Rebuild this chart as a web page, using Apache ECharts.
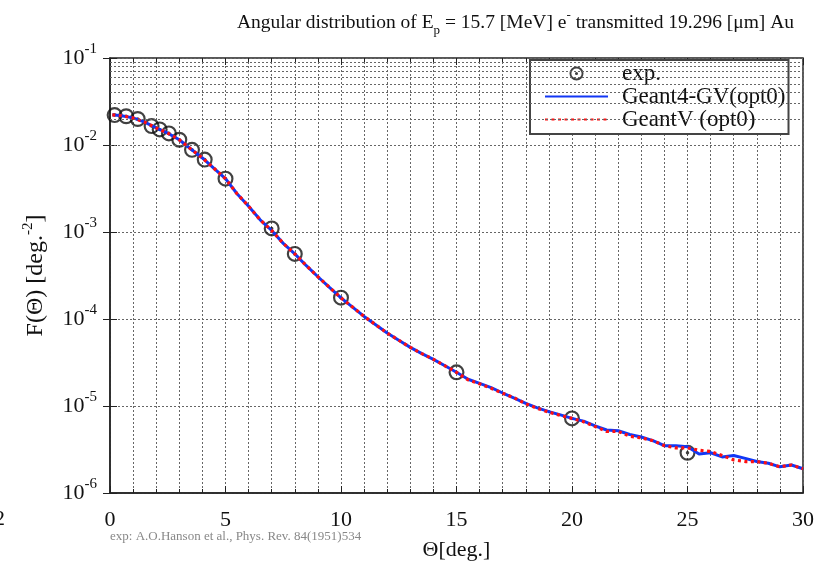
<!DOCTYPE html>
<html><head><meta charset="utf-8">
<script src="https://cdn.jsdelivr.net/npm/echarts@6/dist/echarts.min.js"></script>
<style>html,body{margin:0;padding:0;background:#fff}#c{width:820px;height:568px}</style>
</head><body><div id="c"></div>
<script>
// ---- data ----
const thetaExp = [0.2, 0.7, 1.2, 1.8, 2.15, 2.55, 3.0, 3.55, 4.1, 5, 7, 8, 10, 15, 20, 25];
const fExp = [0.0221, 0.0214, 0.0199, 0.0165, 0.0151, 0.0136, 0.0115, 0.0088, 0.0068, 0.0041, 0.00110, 0.00056, 0.000176, 0.0000244, 0.0000072, 0.0000029];

const thetaSim = [0.1, 0.5, 1, 1.5, 2, 2.5, 3, 3.5, 4, 4.5, 5, 5.5, 6, 6.5, 7, 7.5, 8, 8.5, 9, 9.5,
  10, 10.5, 11, 11.5, 12, 12.5, 13, 13.5, 14, 14.5, 15, 15.5, 16, 16.5, 17, 17.5, 18, 18.5, 19, 19.5,
  20, 20.5, 21, 21.5, 22, 22.5, 23, 23.5, 24, 24.5, 25, 25.5, 26, 26.5, 27, 27.5, 28, 28.5, 29, 29.5, 30];
const fGeant4GV = [0.0222, 0.0217, 0.0205, 0.0183, 0.0157, 0.0137, 0.0115, 0.0090, 0.0071, 0.0054,
  0.0041, 0.00275, 0.00198, 0.00138, 0.00104, 0.00074, 0.00056, 0.00041, 0.000306, 0.000231,
  0.000175, 0.000137, 0.000107, 0.000086, 0.000069, 0.000057, 0.0000472, 0.0000400, 0.0000344, 0.0000290,
  0.0000244, 0.0000203, 0.0000182, 0.0000163, 0.0000141, 0.0000123, 0.0000107, 0.0000095, 0.0000086, 0.0000079,
  0.0000072, 0.0000067, 0.0000059, 0.0000053, 0.0000052, 0.0000047, 0.0000044, 0.0000040, 0.0000035, 0.0000035,
  0.0000034, 0.0000028, 0.0000029, 0.0000026, 0.0000027, 0.0000025, 0.0000023, 0.0000022, 0.0000020, 0.0000021, 0.0000019];
const fGeantV = [0.0222, 0.0217, 0.0205, 0.0183, 0.0157, 0.0137, 0.0115, 0.0090, 0.0071, 0.0054,
  0.0041, 0.00275, 0.00198, 0.00138, 0.00104, 0.00074, 0.00056, 0.00041, 0.000306, 0.000231,
  0.000175, 0.000137, 0.000107, 0.000086, 0.000069, 0.000057, 0.0000472, 0.0000400, 0.0000344, 0.0000290,
  0.0000244, 0.0000200, 0.0000180, 0.0000160, 0.0000140, 0.0000124, 0.0000106, 0.0000094, 0.0000085, 0.0000078,
  0.0000072, 0.0000066, 0.0000058, 0.0000051, 0.0000051, 0.0000045, 0.0000043, 0.0000040, 0.0000035, 0.0000033,
  0.0000033, 0.0000031, 0.0000030, 0.0000027, 0.0000024, 0.0000023, 0.0000023, 0.0000022, 0.0000020, 0.0000021, 0.0000019];

const xMin = 0, xMax = 30, xInterval = 5;
const yMin = 1e-6, yMax = 1e-1;
const decadeExponents = [-6, -5, -4, -3, -2];
const minorMantissas = [2, 3, 4, 5, 6, 7, 8, 9];

// ---- chart ----
const FONT = "'Liberation Serif', 'DejaVu Serif', serif";
const zip = (a, b) => a.map((v, i) => [v, b[i]]);
const minorGrid = [];
decadeExponents.forEach(e => minorMantissas.forEach(m => minorGrid.push(m * Math.pow(10, e))));
const ring = 'path://M0,-10A10,10 0 1,1 0,10A10,10 0 1,1 0,-10Z M0,-7.3A7.3,7.3 0 1,0 0,7.3A7.3,7.3 0 1,0 0,-7.3Z M0,-2.2A2.2,2.2 0 1,1 0,2.2A2.2,2.2 0 1,1 0,-2.2Z';
const gridLine = { color: '#666', width: 1, type: [2, 2] };

const chart = echarts.init(document.getElementById('c'), null, { renderer: 'canvas' });
chart.setOption({
  backgroundColor: '#fff',
  animation: false,
  title: {
    left: 232, top: 4,
    text: '{t|Angular distribution of E}{sub|p}{t| = 15.7 [MeV] e}{sup|-}{t| transmitted 19.296 [μm] Au}',
    textStyle: {
      fontWeight: 'normal',
      rich: {
        t: { fontFamily: FONT, fontSize: 19.5, fontWeight: 'normal', color: '#111', lineHeight: 28 },
        sub: { fontFamily: FONT, fontSize: 13, fontWeight: 'normal', color: '#111', lineHeight: 14, verticalAlign: 'bottom' },
        sup: { fontFamily: FONT, fontSize: 13, fontWeight: 'normal', color: '#111', lineHeight: 13, verticalAlign: 'top' }
      }
    }
  },
  grid: { left: 110, right: 17, top: 58, bottom: 75, show: true, borderColor: '#222', borderWidth: 1.5, backgroundColor: 'transparent' },
  legend: {
    orient: 'vertical', left: 530, top: 60,
    padding: [2, 3, 3, 14], itemGap: 0, itemWidth: 63, itemHeight: 14,
    backgroundColor: '#fff', borderColor: '#444', borderWidth: 2,
    textStyle: { fontFamily: FONT, fontSize: 23, color: '#111', lineHeight: 21, padding: [0, 0, 0, 9] },
    data: [
      { name: 'exp.', icon: ring },
      { name: 'Geant4-GV(opt0)', itemStyle: { opacity: 0 } },
      { name: 'GeantV (opt0)', itemStyle: { opacity: 0 } }
    ]
  },
  xAxis: [{
    type: 'value', min: xMin, max: xMax, interval: xInterval, position: 'bottom',
    axisLine: { show: true, lineStyle: { color: '#222', width: 1.5 } },
    axisTick: { show: true, inside: true, length: 7, lineStyle: { color: '#222' } },
    minorTick: { show: true, splitNumber: 5, length: 4, lineStyle: { color: '#222' } },
    axisLabel: { fontFamily: FONT, fontSize: 22, color: '#111', margin: 16 },
    splitLine: { show: true, lineStyle: gridLine },
    minorSplitLine: { show: true, lineStyle: gridLine },
    name: 'Θ[deg.]', nameLocation: 'middle', nameGap: 46,
    nameTextStyle: { fontFamily: FONT, fontSize: 22, color: '#111' }
  }, {
    type: 'value', min: xMin, max: xMax, interval: xInterval, position: 'top',
    axisLine: { show: false }, axisLabel: { show: false },
    axisTick: { show: true, inside: true, length: 7, lineStyle: { color: '#222' } },
    minorTick: { show: true, splitNumber: 5, length: 4, lineStyle: { color: '#222' } },
    splitLine: { show: false }
  }],
  yAxis: [{
    type: 'log', logBase: 10, min: yMin, max: yMax, position: 'left',
    axisLine: { show: true, lineStyle: { color: '#222', width: 1.5 } },
    axisTick: { show: true, inside: true, length: 7, lineStyle: { color: '#222' } },
    axisLabel: {
      margin: 13,
      formatter: v => '{b|10}{s|' + Math.round(Math.log10(v)) + '}',
      rich: {
        b: { fontFamily: FONT, fontSize: 22, color: '#111', lineHeight: 32 },
        s: { fontFamily: FONT, fontSize: 15, color: '#111', lineHeight: 15, verticalAlign: 'top' }
      }
    },
    splitLine: { show: true, lineStyle: gridLine },
    name: '{t|F(Θ) [deg.}{s|-2}{t|]}', nameLocation: 'middle', nameGap: 59, nameRotate: 90,
    nameTextStyle: {
      rich: {
        t: { fontFamily: FONT, fontSize: 24, color: '#111', lineHeight: 30 },
        s: { fontFamily: FONT, fontSize: 15, color: '#111', lineHeight: 15, verticalAlign: 'top' }
      }
    }
  }, {
    type: 'log', logBase: 10, min: yMin, max: yMax, position: 'right',
    axisLine: { show: false }, axisLabel: { show: false },
    axisTick: { show: true, inside: true, length: 7, lineStyle: { color: '#222' } },
    splitLine: { show: false }
  }],
  graphic: [
    { type: 'text', left: 110, top: 530, style: { text: 'exp: A.O.Hanson et al., Phys. Rev. 84(1951)534', font: '13px ' + FONT, fill: '#888' } },
    { type: 'text', left: -6, top: 508, style: { text: '2', font: '22px ' + FONT, fill: '#111' } }
  ],
  series: [{
    name: 'grid', type: 'line', data: [], z: 1, silent: true,
    markLine: {
      silent: true, symbol: 'none', label: { show: false },
      lineStyle: gridLine, animation: false,
      data: minorGrid.map(v => ({ yAxis: v }))
    }
  }, {
    name: 'exp.', type: 'scatter', z: 2,
    symbol: ring, symbolSize: 16,
    itemStyle: { color: '#111' },
    data: zip(thetaExp, fExp)
  }, {
    name: 'Geant4-GV(opt0)', type: 'line', z: 3,
    symbol: 'none', showSymbol: false,
    lineStyle: { color: '#1237f5', width: 3 },
    itemStyle: { color: '#1237f5', opacity: 0 },
    data: zip(thetaSim, fGeant4GV)
  }, {
    name: 'GeantV (opt0)', type: 'line', z: 4,
    symbol: 'none', showSymbol: false,
    lineStyle: { color: '#ff1010', width: 3.2, type: [3, 3.5] },
    itemStyle: { color: '#ff1010', opacity: 0 },
    data: zip(thetaSim, fGeantV)
  }]
});
</script>
</body></html>
